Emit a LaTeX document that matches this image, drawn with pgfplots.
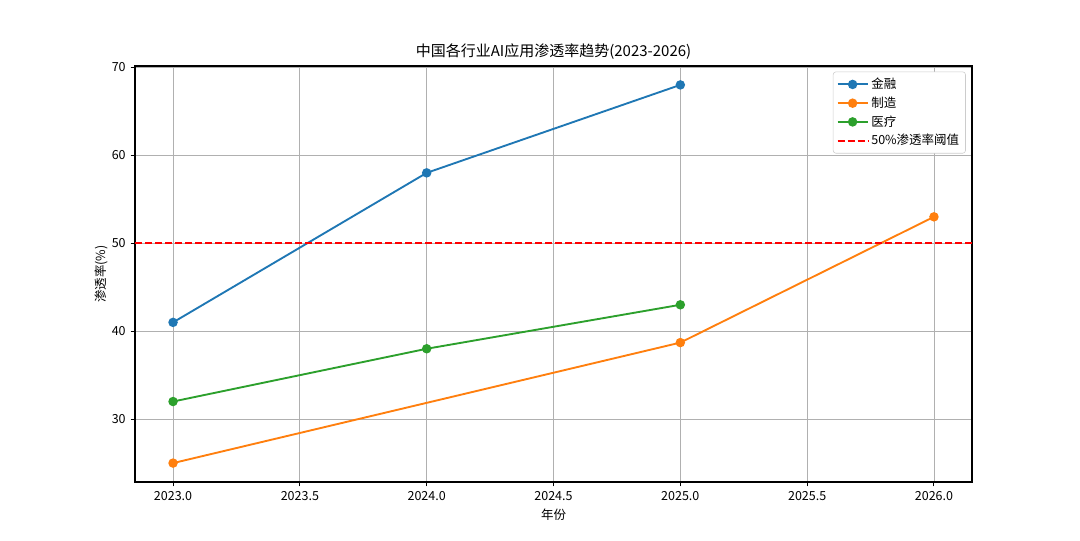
\documentclass[border=0pt]{standalone}
\usepackage{fontspec}
\setmainfont{Noto Sans CJK SC}
\usepackage{pgfplots}
\pgfplotsset{compat=1.18}
\definecolor{c0}{HTML}{1F77B4}
\definecolor{c1}{HTML}{FF7F0E}
\definecolor{c2}{HTML}{2CA02C}
\definecolor{gridc}{HTML}{B0B0B0}
\begin{document}
\begin{tikzpicture}
\path[use as bounding box] (-97.2pt,-41.76pt) rectangle (680.4pt,347.04pt);
\begin{axis}[
  at={(0pt,0pt)}, anchor=south west,
  scale only axis, width=602.64pt, height=299.52pt,
  xmin=2022.85, xmax=2026.15, ymin=22.85, ymax=70.15,
  xtick={2023,2023.5,2024,2024.5,2025,2025.5,2026},
  ytick={30,40,50,60,70},
  xticklabel style={/pgf/number format/.cd,fixed,fixed zerofill,precision=1,1000 sep={}},
  yticklabel style={/pgf/number format/.cd,fixed,precision=0},
  /pgf/number format/assume math mode=true,
  scaled x ticks=false,
  tick label style={font=\fontsize{9}{11}\selectfont},
  label style={font=\fontsize{9}{11}\selectfont},
  xlabel={年份}, ylabel={渗透率(\%)},
  xlabel style={yshift=1pt},
  ylabel style={yshift=-4pt},
  title={中国各行业AI应用渗透率趋势(2023-2026)},
  title style={font=\fontsize{10.8}{13}\selectfont, yshift=-5pt},
  grid=major,
  major grid style={color=gridc, line width=0.6pt},
  axis line style={line width=0.75pt},
  tick style={black, line width=0.75pt},
  tick align=outside, major tick length=3.2pt,
  xtick pos=bottom, ytick pos=left,
  legend style={at={(1,1)}, xshift=-4.5pt, yshift=-4pt, anchor=north east,
    font=\fontsize{9}{11}\selectfont, draw=gray!40, rounded corners=2pt,
    row sep=0.4pt, inner sep=2.5pt},
  legend cell align=left,
  legend image code/.code={\draw[mark repeat=2,mark phase=2] plot coordinates {(0cm,0cm) (0.38cm,0cm) (0.76cm,0cm)};},
  every axis plot/.append style={line width=1.35pt},
]
\addplot[color=c0, mark=*, mark size=2.7pt] coordinates {(2023,41) (2024,58) (2025,68)};
\addlegendentry{金融}
\addplot[color=c1, mark=*, mark size=2.7pt] coordinates {(2023,25) (2025,38.7) (2026,53)};
\addlegendentry{制造}
\addplot[color=c2, mark=*, mark size=2.7pt] coordinates {(2023,32) (2024,38) (2025,43)};
\addlegendentry{医疗}
\addplot[color=red, dash pattern=on 5pt off 2.2pt] coordinates {(2022.85,50) (2026.15,50)};
\addlegendentry{50\%渗透率阈值}
\end{axis}
\end{tikzpicture}
\end{document}
